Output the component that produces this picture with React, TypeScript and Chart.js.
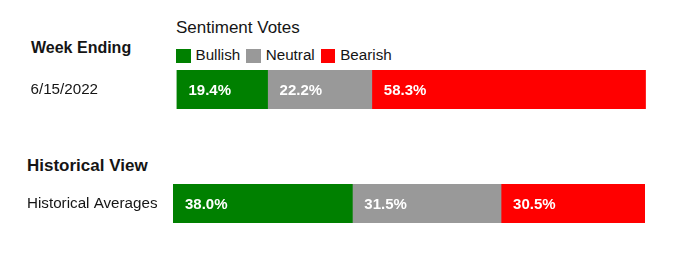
import React, { useEffect, useRef } from 'react';
import { Chart, registerables } from 'chart.js';

Chart.register(...registerables);

const seriesNames = ['Bullish', 'Neutral', 'Bearish'];
const seriesColors = ['#008000', '#999999', '#ff0000'];
const weekCategories = ['6/15/2022'];
const weekValues = [19.4, 22.2, 58.3];
const histCategories = ['Historical Averages'];
const histValues = [38.0, 31.5, 30.5];

const FONT = '"Liberation Sans", Arial, Helvetica, sans-serif';
const TEXT = '#151515';

const labelPlugin = {
  id: 'segLabels',
  afterDatasetsDraw(chart: any) {
    const ctx = chart.ctx;
    ctx.save();
    ctx.font = `bold 15px ${FONT}`;
    ctx.fillStyle = '#ffffff';
    ctx.textAlign = 'left';
    ctx.textBaseline = 'alphabetic';
    chart.data.datasets.forEach((ds: any, i: number) => {
      const meta = chart.getDatasetMeta(i);
      meta.data.forEach((el: any, j: number) => {
        const v = ds.data[j];
        const p = el.getProps(['x', 'y', 'base'], true);
        const left = Math.min(p.x, p.base);
        ctx.fillText(v.toFixed(1) + '%', left + 12, p.y + 5.5);
      });
    });
    ctx.restore();
  },
};

function BarRow(props: {
  top: number;
  height: number;
  categories: string[];
  values: number[];
  padLeft: number;
  areaLeft: number;
  areaRight: number;
}) {
  const ref = useRef<HTMLCanvasElement | null>(null);
  const { top, height, categories, values, padLeft, areaLeft, areaRight } = props;
  useEffect(() => {
    const chart = new Chart(ref.current as HTMLCanvasElement, {
      type: 'bar',
      data: {
        labels: categories,
        datasets: seriesNames.map((n, i) => ({
          label: n,
          data: [values[i]],
          backgroundColor: seriesColors[i],
          borderWidth: 0,
          barPercentage: 1,
          categoryPercentage: 1,
        })),
      },
      options: {
        indexAxis: 'y',
        responsive: false,
        animation: false,
        devicePixelRatio: 1,
        layout: { padding: { left: padLeft, right: 682 - areaRight, top: 10, bottom: 10 } },
        plugins: {
          legend: { display: false },
          tooltip: { enabled: false },
          title: { display: false },
        },
        scales: {
          x: { stacked: true, display: false, min: 0, max: 100 },
          y: {
            stacked: true,
            grid: { display: false },
            border: { display: false },
            ticks: {
              crossAlign: 'far',
              color: TEXT,
              font: { family: FONT, size: 15.2 },
              padding: 0,
            },
            afterFit: (s: any) => {
              s.width = areaLeft - padLeft;
            },
          },
        },
      } as any,
      plugins: [labelPlugin],
    });
    return () => chart.destroy();
  }, []);
  return (
    <canvas
      ref={ref}
      width={682}
      height={height}
      style={{ position: 'absolute', left: 0, top, width: 682, height, display: 'block' }}
    />
  );
}

function Txt(props: { left: number; top: number; size: number; bold?: boolean; children: any }) {
  return (
    <div
      style={{
        position: 'absolute',
        left: props.left,
        top: props.top,
        fontFamily: FONT,
        fontSize: props.size,
        lineHeight: props.size + 'px',
        fontWeight: props.bold ? 'bold' : 'normal',
        color: TEXT,
        whiteSpace: 'nowrap',
      }}
    >
      {props.children}
    </div>
  );
}

export default function App() {
  return (
    <div
      style={{
        position: 'absolute',
        left: 0,
        top: 0,
        width: 682,
        height: 257,
        background: '#ffffff',
        overflow: 'hidden',
      }}
    >
      <Txt left={176} top={18.6} size={17}>Sentiment Votes</Txt>
      <Txt left={31} top={39.8} size={16} bold>Week Ending</Txt>
      <div
        style={{
          position: 'absolute',
          left: 176,
          top: 46.8,
          display: 'flex',
          alignItems: 'flex-start',
          fontFamily: FONT,
          fontSize: 15.2,
          lineHeight: '15px',
          color: TEXT,
          whiteSpace: 'nowrap',
        }}
      >
        {seriesNames.map((n, i) => (
          <div key={n} style={{ display: 'flex', alignItems: 'flex-start', marginRight: 6 }}>
            <div style={{ width: 14.5, height: 14, marginTop: 2.2, background: seriesColors[i], marginRight: 5 }} />
            <span>{n}</span>
          </div>
        ))}
      </div>
      <BarRow top={60} height={59} categories={weekCategories} values={weekValues} padLeft={30.5} areaLeft={176.5} areaRight={646} />
      <Txt left={27} top={157.3} size={17} bold>Historical View</Txt>
      <BarRow top={174} height={59} categories={histCategories} values={histValues} padLeft={27} areaLeft={173} areaRight={645} />
    </div>
  );
}
